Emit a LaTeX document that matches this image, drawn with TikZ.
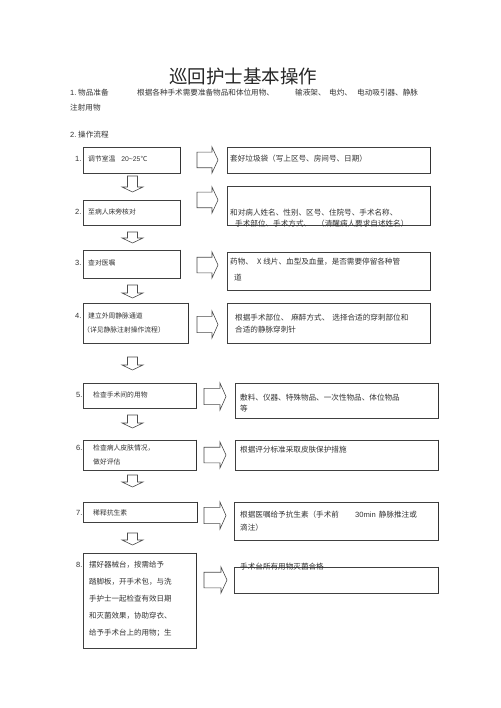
\documentclass[tikz,border=0pt]{standalone}
\usepackage{fontspec}
\setmainfont{Liberation Sans}
\newfontfamily\cjk{Noto Sans CJK SC}
\usetikzlibrary{fit}
\tikzset{
  box/.style={draw=black!75, line width=0.7pt, inner sep=0pt},
  edgeR/.style={draw=black!80, line width=1.1pt},
  arr/.style={draw=black!70, line width=0.6pt, fill=white},
  rtxt/.style={anchor=west, inner sep=0pt, text=black!80, font=\cjk\fontsize{7.6}{9}\selectfont},
  ltxt/.style={anchor=west, inner sep=0pt, text=black!80, font=\cjk\fontsize{6.8}{8}\selectfont},
  btxt/.style={anchor=west, inner sep=0pt, text=black!80, font=\cjk\fontsize{7.5}{9}\selectfont},
  num/.style={anchor=west, inner sep=0pt, text=black!80, font=\fontsize{7.5}{9}\selectfont},
  ttl/.style={inner sep=0pt, text=black!85, font=\cjk\fontsize{18.5}{20}\selectfont}
}
\newcommand\blkR[4]{%
  \pgfmathsetmacro\myCY{(#3+#4)/2}%
  \pgfmathsetmacro\myHX{#2-6}%
  \pgfmathsetmacro\myBH{(#4-#3)*0.3}%
  \draw[arr] (#1,\myCY-\myBH) -- (\myHX,\myCY-\myBH) -- (\myHX,#3) -- (#2,\myCY)
    -- (\myHX,#4) -- (\myHX,\myCY+\myBH) -- (#1,\myCY+\myBH) -- cycle;}
\newcommand\blkD[3]{%
  \pgfmathsetmacro\myHS{#3-5}%
  \draw[arr] (#1-5,#2) -- (#1+5,#2) -- (#1+5,\myHS) -- (#1+10.5,\myHS) -- (#1,#3)
    -- (#1-10.5,\myHS) -- (#1-5,\myHS) -- cycle;}
\begin{document}
\begin{tikzpicture}[x=1pt,y=-1pt]
\fill[white] (0,0) rectangle (500,708);
\useasboundingbox (0,0) rectangle (500,708);

% title and header
\node[ttl] (title) at (243,76) {巡回护士基本操作};
\node[num] (h1n) at (70,93) {1.};
\node[rtxt] (h1a) at (78,93) {物品准备};
\node[rtxt] (h1b) at (137,93) {根据各种手术需要准备物品和体位用物、};
\node[rtxt] (h1c) at (295,93) {输液架、};
\node[rtxt] (h1d) at (329,93) {电灼、};
\node[rtxt] (h1e) at (357,93) {电动吸引器、静脉};
\node[rtxt] (h1f) at (70,108) {注射用物};
\node[num] (h2n) at (70,135) {2.};
\node[rtxt] (h2a) at (78,135) {操作流程};

% left boxes
\node[box, fit={(83,147) (180,173)}] (l1) {};
\node[box, fit={(83,200) (180,225)}] (l2) {};
\node[box, fit={(83,250) (180,278)}] (l3) {};
\node[box, fit={(83,303) (188,343)}] (l4) {};
\node[box, fit={(83,383) (196,408)}] (l5) {};
\node[box, fit={(83,440) (196,470)}] (l6) {};
\node[box, fit={(83,502) (197,522)}] (l7) {};
\node[box, fit={(83,553) (196,648)}] (l8) {};

% right boxes
\node[box, fit={(227,147) (430,173)}] (r1) {};
\node[box, fit={(227,186) (430,225)}] (r2) {};
\node[box, fit={(227,252) (430,290)}] (r3) {};
\node[box, fit={(227,303) (430,343)}] (r4) {};
\node[box, fit={(235,383) (438,418)}] (r5) {};
\node[box, fit={(235,440) (438,470)}] (r6) {};
\node[box, fit={(234,502) (438,540)}] (r7) {};
\node[box, fit={(234,567) (438,593)}] (r8) {};

% darker right edges
\foreach \b in {l1,l2,l3,l4,l5,l6,l7,l8,r1,r2,r3,r4,r5,r6,r7,r8}
  \draw[edgeR] (\b.north east) -- (\b.south east);

% right arrows
\blkR{197}{218}{147}{173}
\blkR{197}{218}{187}{213}
\blkR{197}{218}{252}{278}
\blkR{197}{218}{311}{338}
\blkR{204}{226}{383}{410}
\blkR{204}{226}{442}{468}
\blkR{204}{226}{502}{529}
\blkR{204}{227}{567}{593}

% down arrows
\blkD{132.5}{176}{192}
\blkD{132.5}{232}{243}
\blkD{132.5}{285}{298}
\blkD{132.5}{357}{370}
\blkD{132.5}{415}{428}
\blkD{132.5}{475}{487}
\blkD{132.5}{533}{545}

% left texts
\node[num] (n1) at (75,159) {1.};
\node[ltxt] (t1) at (88,159) {调节室温\hspace{6pt}{\fontspec{Liberation Sans}20\textasciitilde25}℃};
\node[num] (n2) at (75,212) {2.};
\node[ltxt] (t2) at (88,212) {至病人床旁核对};
\node[num] (n3) at (75,263) {3.};
\node[ltxt] (t3) at (88,263) {查对医嘱};
\node[num] (n4) at (75,316) {4.};
\node[ltxt] (t4) at (88,316) {建立外周静脉通道};
\node[ltxt] (t4b) at (83,330) {（详见静脉注射操作流程）};
\node[num] (n5) at (76,395) {5.};
\node[ltxt] (t5) at (93,395) {检查手术间的用物};
\node[num] (n6) at (76,448) {6.};
\node[ltxt] (t6) at (93,448) {检查病人皮肤情况，};
\node[ltxt] (t6b) at (93,462) {做好评估};
\node[num] (n7) at (76,513) {7.};
\node[ltxt] (t7) at (93,513) {稀释抗生素};
\node[num] (n8) at (76,565) {8.};
\node[btxt] (t8a) at (89,565) {摆好器械台，按需给予};
\node[btxt] (t8b) at (89,582) {踏脚板，开手术包，与洗};
\node[btxt] (t8c) at (89,599) {手护士一起检查有效日期};
\node[btxt] (t8d) at (89,616) {和灭菌效果，协助穿衣、};
\node[btxt] (t8e) at (89,633) {给予手术台上的用物；生};

% right texts
\node[rtxt] (s1) at (230,159) {套好垃圾袋（写上区号、房间号、日期）};
\node[rtxt] (s2) at (230,213) {和对病人姓名、性别、区号、住院号、手术名称、};
\node[rtxt] (s2b) at (235,224) {手术部位、手术方式、\hspace{6pt}（清醒病人要求自述姓名）};
\node[rtxt] (s3) at (230,262) {药物、\hspace{4pt}X\hspace{2pt}线片、血型及血量，是否需要停留各种管};
\node[rtxt] (s3b) at (234,278) {道};
\node[rtxt] (s4) at (235,318) {根据手术部位、\hspace{3pt}麻醉方式、\hspace{3pt}选择合适的穿刺部位和};
\node[rtxt] (s4b) at (235,330) {合适的静脉穿刺针};
\node[rtxt] (s5) at (240,398) {敷料、仪器、特殊物品、一次性物品、体位物品};
\node[rtxt] (s5b) at (240,409) {等};
\node[rtxt] (s6) at (240,450) {根据评分标准采取皮肤保护措施};
\node[rtxt] (s7) at (240,515) {根据医嘱给予抗生素（手术前};
\node[rtxt] (s7n) at (355,515) {{\fontspec{Liberation Sans}30min}\hspace{3pt}静脉推注或};
\node[rtxt] (s7b) at (240,528) {滴注）};
\node[rtxt] (s8) at (240,567) {手术台所有用物灭菌合格};
\end{tikzpicture}
\end{document}
